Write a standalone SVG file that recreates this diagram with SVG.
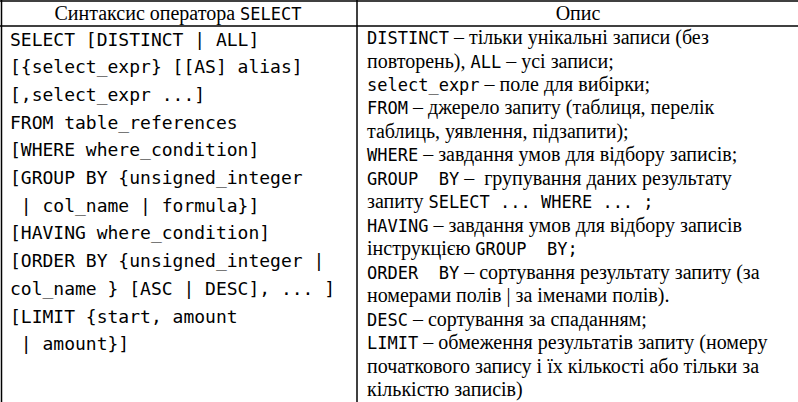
<svg xmlns="http://www.w3.org/2000/svg" width="798" height="402" viewBox="0 0 798 402">
<style>
.bg{fill:#ffffff}
.rule{stroke:#000000;stroke-width:1.5;fill:none}
text{white-space:pre}
.code{font-family:"DejaVu Sans Mono","Liberation Mono",monospace;font-size:18px;fill:#000000}
.serif{font-family:"Liberation Serif","Times New Roman",serif;font-size:20px;fill:#000000}
.m{font-family:"DejaVu Sans Mono","Liberation Mono",monospace;font-size:17px}
</style>
<rect class="bg" x="0" y="0" width="798" height="402"/>
<g id="grid">
<line class="rule" x1="0" y1="1" x2="798" y2="1"/>
<line class="rule" x1="0" y1="26" x2="798" y2="26"/>
<line class="rule" x1="1.5" y1="0" x2="1.5" y2="402"/>
<line class="rule" x1="357" y1="0" x2="357" y2="402"/>
</g>
<g id="header">
<text class="serif" x="178" y="20" text-anchor="middle">Синтаксис оператора <tspan class="m">SELECT</tspan></text>
<text class="serif" x="578" y="20" text-anchor="middle">Опис</text>
</g>
<g id="syntax">
<text class="code" x="10" y="45.5" xml:space="preserve">SELECT [DISTINCT | ALL]</text>
<text class="code" x="10" y="73.2" xml:space="preserve">[{select_expr} [[AS] alias]</text>
<text class="code" x="10" y="100.9" xml:space="preserve">[,select_expr ...]</text>
<text class="code" x="10" y="128.6" xml:space="preserve">FROM table_references</text>
<text class="code" x="10" y="156.3" xml:space="preserve">[WHERE where_condition]</text>
<text class="code" x="10" y="184" xml:space="preserve">[GROUP BY {unsigned_integer</text>
<text class="code" x="10" y="211.7" xml:space="preserve"> | col_name | formula}]</text>
<text class="code" x="10" y="239.4" xml:space="preserve">[HAVING where_condition]</text>
<text class="code" x="10" y="267.1" xml:space="preserve">[ORDER BY {unsigned_integer |</text>
<text class="code" x="10" y="294.8" xml:space="preserve">col_name } [ASC | DESC], ... ]</text>
<text class="code" x="10" y="322.5" xml:space="preserve">[LIMIT {start, amount</text>
<text class="code" x="10" y="350.2" xml:space="preserve"> | amount}]</text>
</g>
<g id="description">
<text class="serif" x="367" y="44" xml:space="preserve"><tspan class="m">DISTINCT</tspan> – тільки унікальні записи (без</text>
<text class="serif" x="367" y="67.5" xml:space="preserve">повторень), <tspan class="m">ALL</tspan> – усі записи;</text>
<text class="serif" x="367" y="90.9" xml:space="preserve"><tspan class="m">select_expr</tspan> – поле для вибірки;</text>
<text class="serif" x="367" y="114.4" xml:space="preserve"><tspan class="m">FROM</tspan> – джерело запиту (таблиця, перелік</text>
<text class="serif" x="367" y="137.9" xml:space="preserve">таблиць, уявлення, підзапити);</text>
<text class="serif" x="367" y="161.4" xml:space="preserve"><tspan class="m">WHERE</tspan> – завдання умов для відбору записів;</text>
<text class="serif" x="367" y="184.8" xml:space="preserve"><tspan class="m">GROUP  BY</tspan> –  групування даних результату</text>
<text class="serif" x="367" y="208.3" xml:space="preserve">запиту <tspan class="m">SELECT ... WHERE ... ;</tspan></text>
<text class="serif" x="367" y="231.8" xml:space="preserve"><tspan class="m">HAVING</tspan> – завдання умов для відбору записів</text>
<text class="serif" x="367" y="255.2" xml:space="preserve">інструкцією <tspan class="m">GROUP  BY;</tspan></text>
<text class="serif" x="367" y="278.7" xml:space="preserve"><tspan class="m">ORDER  BY</tspan> – сортування результату запиту (за</text>
<text class="serif" x="367" y="302.2" xml:space="preserve">номерами полів | за іменами полів).</text>
<text class="serif" x="367" y="325.6" xml:space="preserve"><tspan class="m">DESC</tspan> – сортування за спаданням;</text>
<text class="serif" x="367" y="349.1" xml:space="preserve"><tspan class="m">LIMIT</tspan> – обмеження результатів запиту (номеру</text>
<text class="serif" x="367" y="372.6" xml:space="preserve">початкового запису і їх кількості або тільки за</text>
<text class="serif" x="367" y="396" xml:space="preserve">кількістю записів)</text>
</g>
</svg>
